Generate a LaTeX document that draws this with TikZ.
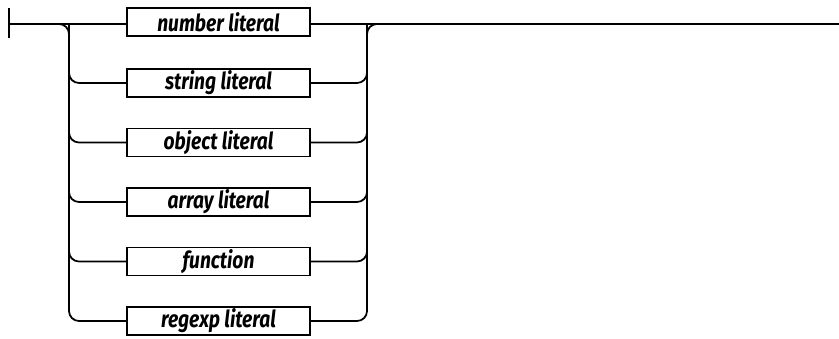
\documentclass[tikz,border=0pt]{standalone}
\usepackage{fontspec}
\newfontfamily\railfont[FakeStretch=0.82]{Fira Sans}
\begin{document}
\begin{tikzpicture}[x=0.03cm,y=-0.03cm,
  rulebox/.style={draw,line width=1.6pt,minimum width=5.49cm,minimum height=0.84cm,inner sep=0pt,
    font=\railfont\bfseries\itshape\fontsize{20}{20}\selectfont},
  track/.style={line width=1.5pt,rounded corners=0.3cm}]
\useasboundingbox (0,0) rectangle (839,339);
% entry bar, the two rails and the exit
\coordinate (start) at (9,24);
\coordinate (lin) at (69,24);
\coordinate (rout) at (367,24);
\coordinate (stop) at (839,24);
\draw[line width=1.5pt] (9,8) -- (9,38);
% one box for each alternative
\node[rulebox] (num) at (218.5,22) {number literal};
\node[rulebox] (str) at (218.5,83) {string literal};
\node[rulebox] (obj) at (218.5,142.5) {object literal};
\node[rulebox] (arr) at (218.5,202) {array literal};
\node[rulebox] (fun) at (218.5,261.5) {function};
\node[rulebox] (reg) at (218.5,321) {regexp literal};
\draw[track] (start) -- (num.west |- start);
\draw[track] (num.east |- start) -- (stop);
\draw[track] (start) -- (lin) |- (reg.west);
\draw[track] (reg.east) -| (rout) -- (stop);
\foreach \n in {str,obj,arr,fun} {
  \draw[track] (lin) |- (\n.west);
  \draw[track] (\n.east) -| (rout);
}
\end{tikzpicture}
\end{document}
